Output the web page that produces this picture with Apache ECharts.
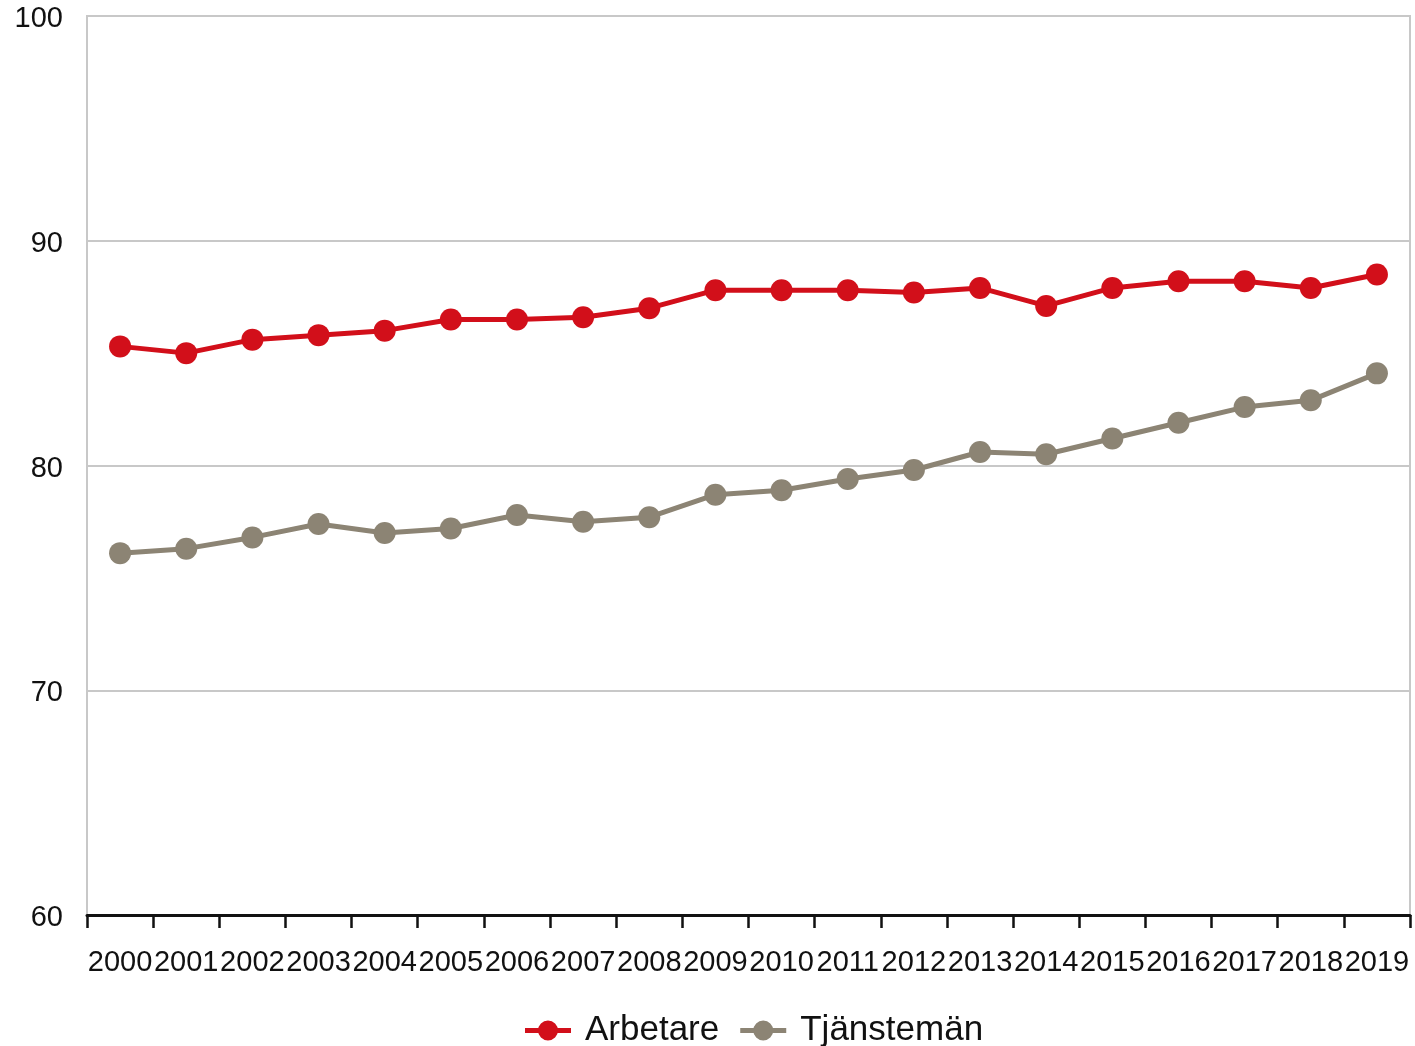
<!DOCTYPE html>
<html>
<head>
<meta charset="utf-8">
<script src="https://cdn.jsdelivr.net/npm/echarts@6/dist/echarts.min.js"></script>
<style>
  html, body { margin: 0; padding: 0; background: #fff; }
  #chart { width: 1415px; height: 1046px; }
</style>
</head>
<body>
<div id="chart"></div>
<script>
const years = ['2000', '2001', '2002', '2003', '2004', '2005', '2006', '2007', '2008', '2009',
  '2010', '2011', '2012', '2013', '2014', '2015', '2016', '2017', '2018', '2019'];
const arbetare = [85.3, 85.0, 85.6, 85.8, 86.0, 86.5, 86.5, 86.6, 87.0, 87.8,
  87.8, 87.8, 87.7, 87.9, 87.1, 87.9, 88.2, 88.2, 87.9, 88.5];
const tjansteman = [76.1, 76.3, 76.8, 77.4, 77.0, 77.2, 77.8, 77.5, 77.7, 78.7,
  78.9, 79.4, 79.8, 80.6, 80.5, 81.2, 81.9, 82.6, 82.9, 84.1];

const font = '"Liberation Sans", Arial, sans-serif';
const red = '#d20f1a';
const grey = '#8c8474';
// legend marker: thick line with a dot in the middle
const legendIcon = 'path://M0,7.5H46V12.5H0Z M13,10A10,10,0,1,1,33,10A10,10,0,1,1,13,10Z';

const chart = echarts.init(document.getElementById('chart'));

chart.setOption({
  animation: false,
  textStyle: { fontFamily: font },
  grid: {
    left: 87,
    right: 5,
    top: 16,
    bottom: 131,
    show: true,
    borderColor: '#c8c8c8',
    borderWidth: 2,
  },
  legend: {
    left: 520,
    top: 1008,
    itemWidth: 46,
    itemHeight: 20,
    itemGap: 21,
    textStyle: { fontSize: 35, color: '#111', fontFamily: font, padding: [0, 0, 0, 9] },
    data: [
      { name: 'Arbetare', icon: legendIcon },
      { name: 'Tjänstemän', icon: legendIcon },
    ],
  },
  xAxis: {
    type: 'category',
    data: years,
    boundaryGap: true,
    axisLine: { lineStyle: { color: '#111', width: 3 } },
    axisTick: { show: true, interval: 0, length: 13, lineStyle: { color: '#111', width: 2.5 } },
    axisLabel: { interval: 0, hideOverlap: false, fontSize: 29, color: '#111', margin: 33 },
  },
  yAxis: {
    type: 'value',
    min: 60,
    max: 100,
    interval: 10,
    axisLine: { show: false },
    axisTick: { show: false },
    axisLabel: {
      margin: 24,
      formatter: '{v|{value}}',
      rich: { v: { fontSize: 29, color: '#111', fontFamily: font, padding: [6, 0, 0, 0] } },
    },
    splitLine: { lineStyle: { color: '#c8c8c8', width: 2 } },
  },
  series: [
    {
      name: 'Arbetare',
      type: 'line',
      data: arbetare,
      symbol: 'circle',
      symbolSize: 22,
      itemStyle: { color: red },
      lineStyle: { color: red, width: 5 },
      z: 3,
    },
    {
      name: 'Tjänstemän',
      type: 'line',
      data: tjansteman,
      symbol: 'circle',
      symbolSize: 22,
      itemStyle: { color: grey },
      lineStyle: { color: grey, width: 5 },
      z: 2,
    },
  ],
});
</script>
</body>
</html>
